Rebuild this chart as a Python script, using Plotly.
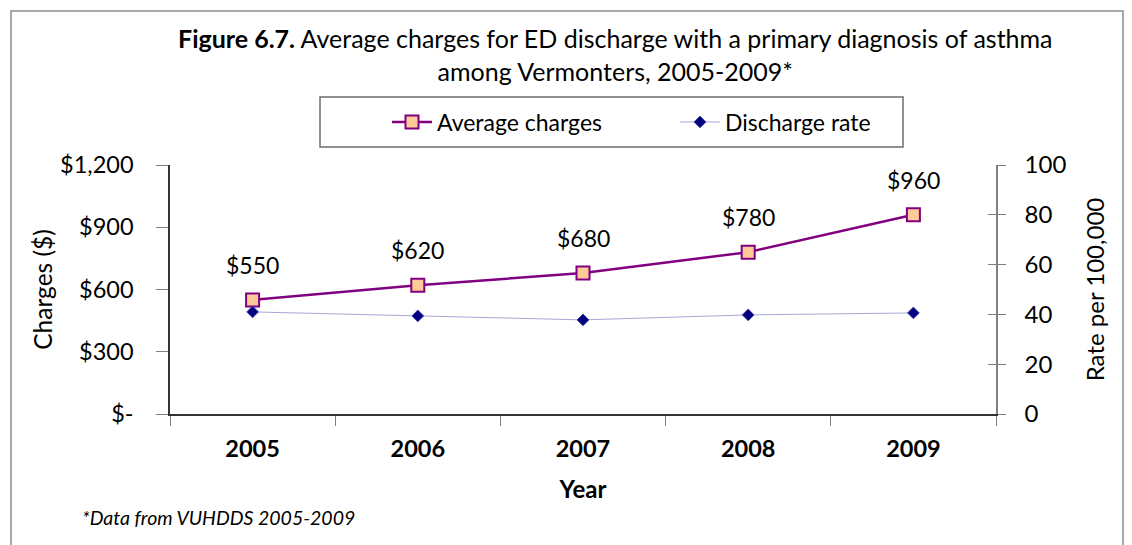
import plotly.graph_objects as go

years = ["2005", "2006", "2007", "2008", "2009"]
avg_charges = [550, 620, 680, 780, 960]
discharge_rate = [41.0, 39.4, 37.8, 39.8, 40.6]
charge_labels = ["$550", "$620", "$680", "$780", "$960"]
left_tickvals = [0, 300, 600, 900, 1200]
left_ticktext = ["$-", "$300", "$600", "$900", "$1,200"]
right_tickvals = [0, 20, 40, 60, 80, 100]

FONT = "Lato, Open Sans, sans-serif"
W, H = 1132, 545
L, R, T, B = 170, 136, 165, 131
pw, ph = W - L - R, H - T - B

def px_x(p):
    return (p - L) / pw

def px_y(p):
    return (H - B - p) / ph

fig = go.Figure()
fig.add_trace(go.Scatter(
    x=years, y=avg_charges, name="Average charges", mode="lines+markers",
    line=dict(color="#800080", width=2.5),
    marker=dict(symbol="square", size=13, color="#FFCC99",
                line=dict(color="#800080", width=2)),
    yaxis="y", cliponaxis=False,
))
fig.add_trace(go.Scatter(
    x=years, y=discharge_rate, name="Discharge rate", mode="lines+markers",
    line=dict(color="#A8A8D8", width=1),
    marker=dict(symbol="diamond", size=9, color="#000080",
                line=dict(color="#4040A0", width=1)),
    yaxis="y2", cliponaxis=False,
))
# hidden overlay axis for inner cross ticks on the right
fig.add_trace(go.Scatter(x=years, y=discharge_rate, yaxis="y3", mode="none",
                         showlegend=False, hoverinfo="skip"))

for i, (v, t) in enumerate(zip(avg_charges, charge_labels)):
    fig.add_annotation(x=i, y=v, xref="x", yref="y", text=t, showarrow=False, yshift=35,
                       font=dict(family=FONT, size=23, color="#000"))

fig.add_annotation(
    x=px_x(615), y=px_y(54), xref="paper", yref="paper", showarrow=False,
    text="<b>Figure 6.7.</b> Average charges for ED discharge with a primary diagnosis of asthma<br>among Vermonters, 2005-2009*",
    font=dict(family=FONT, size=25, color="#000"), align="center", yanchor="middle",
)
fig.add_annotation(
    x=px_x(80), y=px_y(517), xref="paper", yref="paper", showarrow=False,
    text="<i>*Data from VUHDDS 2005-2009</i>", xanchor="left", yanchor="middle",
    font=dict(family=FONT, size=19.5, color="#000"),
)

fig.add_shape(type="rect", xref="paper", yref="paper",
              x0=px_x(11), x1=px_x(1123), y0=px_y(600), y1=px_y(11),
              line=dict(color="#8c8c8c", width=1.5), layer="below")
# legend frame
fig.add_shape(type="rect", xref="paper", yref="paper",
              x0=px_x(320), x1=px_x(903), y0=px_y(147), y1=px_y(97),
              line=dict(color="#6e6e6e", width=1.5), fillcolor="white", layer="below")

fig.update_layout(
    width=W, height=H, margin=dict(l=L, r=R, t=T, b=B),
    paper_bgcolor="white", plot_bgcolor="white",
    font=dict(family=FONT, size=22, color="#000"),
    showlegend=True,
    legend=dict(orientation="h", x=px_x(387), y=px_y(122), xanchor="left", yanchor="middle",
                borderwidth=0, bgcolor="rgba(0,0,0,0)",
                font=dict(family=FONT, size=23), entrywidth=233, entrywidthmode="pixels",
                itemwidth=40, tracegroupgap=0),
    xaxis=dict(type="category", tickson="boundaries", ticks="outside", ticklen=10,
               tickcolor="#808080", showline=True, linecolor="#333", linewidth=1.5,
               showgrid=False, tickfont=dict(family=FONT, size=23.5, color="#000", weight="bold"),
               ticklabelstandoff=13,
               title=dict(text="<b>Year</b>", font=dict(family=FONT, size=24), standoff=20),
               range=[-0.5, 4.5]),
    yaxis=dict(range=[0, 1200], tickvals=left_tickvals, ticktext=left_ticktext,
               ticks="outside", ticklen=12, tickcolor="#808080", showline=True,
               linecolor="#333", linewidth=1.5, showgrid=False, zeroline=False,
               ticklabelstandoff=18, tickfont=dict(family=FONT, size=23.5),
               title=dict(text="Charges ($)", font=dict(family=FONT, size=24.5), standoff=0)),
    yaxis2=dict(range=[0, 100], tickvals=right_tickvals, overlaying="y", side="right",
                ticks="outside", ticklen=8, tickcolor="#808080", showline=True,
                linecolor="#808080", linewidth=1.5, showgrid=False, zeroline=False,
                ticklabelstandoff=14, tickfont=dict(family=FONT, size=24),
                title=dict(text="Rate per 100,000", font=dict(family=FONT, size=24), standoff=22)),
    yaxis3=dict(range=[0, 100], tickvals=right_tickvals, overlaying="y", side="right",
                ticks="inside", ticklen=8, tickcolor="#808080", showticklabels=False,
                showline=False, showgrid=False, zeroline=False),
)

fig.write_html("out.html")
